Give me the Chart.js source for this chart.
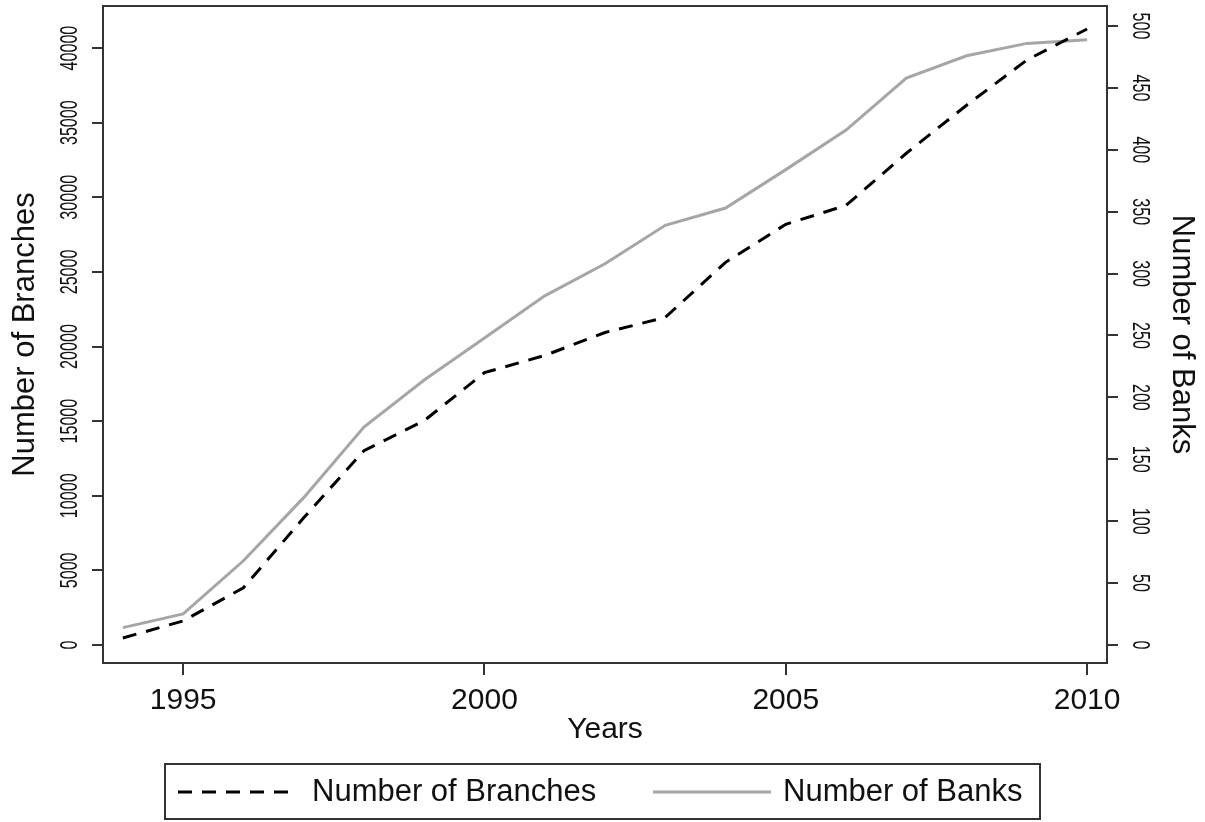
<!DOCTYPE html>
<html>
<head>
<meta charset="utf-8">
<script src="https://cdn.jsdelivr.net/npm/chart.js@4.4.1/dist/chart.umd.min.js"></script>
<style>
    html, body { margin: 0; padding: 0; background: #fff; }
    #wrap { width: 1205px; height: 822px; }
</style>
</head>
<body>
<div id="wrap"><canvas id="bankChart" width="1205" height="822"></canvas></div>
<script>
// Data
const years = [1994, 1995, 1996, 1997, 1998, 1999, 2000, 2001, 2002, 2003, 2004, 2005, 2006, 2007, 2008, 2009, 2010];
const branches = [470, 1610, 3830, 8520, 13020, 15030, 18250, 19400, 20940, 21950, 25640, 28190, 29460, 32950, 36170, 39200, 41280];
const banks = [14, 25, 68, 119, 176, 214, 248, 282, 308, 339, 353, 384, 416, 458, 476, 486, 489];

const yearTicks = [1995, 2000, 2005, 2010];
const branchTicks = [0, 5000, 10000, 15000, 20000, 25000, 30000, 35000, 40000];
const bankTicks = [0, 50, 100, 150, 200, 250, 300, 350, 400, 450, 500];

const FONT = "'Liberation Sans', Arial, sans-serif";
const AXIS = '#333333';

function toPoints(values) {
    return years.map((yr, i) => ({ x: yr, y: values[i] }));
}

// rotated, slightly condensed tick labels for the two vertical axes
const tickLabels = {
    id: 'tickLabels',
    afterDraw(chart) {
        const ctx = chart.ctx;
        ctx.save();
        ctx.fillStyle = '#111';
        ctx.font = '23px ' + FONT;
        ctx.textAlign = 'center';
        ctx.textBaseline = 'middle';

        branchTicks.forEach(v => {
            const y = chart.scales.y.getPixelForValue(v);
            ctx.save();
            ctx.translate(71, y);
            ctx.rotate(-Math.PI / 2);
            ctx.scale(0.7, 1);
            ctx.fillText(String(v), 0, 0);
            ctx.restore();
        });

        bankTicks.forEach(v => {
            const y = chart.scales.y2.getPixelForValue(v);
            ctx.save();
            ctx.translate(1139, y);
            ctx.rotate(Math.PI / 2);
            ctx.scale(0.7, 1);
            ctx.fillText(String(v), 0, 0);
            ctx.restore();
        });
        ctx.restore();
    }
};

// top border of the plot box plus the boxed legend below
const frameAndLegend = {
    id: 'frameAndLegend',
    afterDraw(chart) {
        const ctx = chart.ctx;
        const area = chart.chartArea;
        ctx.save();
        ctx.strokeStyle = AXIS;
        ctx.lineWidth = 2;
        ctx.beginPath();
        ctx.moveTo(area.left - 1, area.top);
        ctx.lineTo(area.right + 1, area.top);
        ctx.stroke();

        // legend box
        ctx.strokeRect(165, 764, 875, 55);

        const items = [
            { ds: chart.data.datasets[0], x0: 178, x1: 296, tx: 312 },
            { ds: chart.data.datasets[1], x0: 653, x1: 771, tx: 783 }
        ];
        items.forEach(it => {
            ctx.save();
            ctx.strokeStyle = it.ds.borderColor;
            ctx.lineWidth = it.ds.borderWidth;
            ctx.setLineDash(it.ds.borderDash || []);
            ctx.beginPath();
            ctx.moveTo(it.x0, 792);
            ctx.lineTo(it.x1, 792);
            ctx.stroke();
            ctx.restore();

            ctx.fillStyle = '#111';
            ctx.font = '31px ' + FONT;
            ctx.textAlign = 'left';
            ctx.textBaseline = 'middle';
            ctx.fillText(it.ds.label, it.tx, 792);
        });
        ctx.restore();
    }
};

const ctx = document.getElementById('bankChart');
const bankChart = new Chart(ctx, {
    type: 'line',
    data: {
        datasets: [
            {
                label: 'Number of Branches',
                data: toPoints(branches),
                yAxisID: 'y',
                borderColor: '#000000',
                borderWidth: 3,
                borderDash: [14, 10],
                pointRadius: 0,
                tension: 0,
                fill: false
            },
            {
                label: 'Number of Banks',
                data: toPoints(banks),
                yAxisID: 'y2',
                borderColor: '#a6a6a6',
                borderWidth: 3,
                pointRadius: 0,
                tension: 0,
                fill: false
            }
        ]
    },
    options: {
        responsive: false,
        animation: false,
        layout: { padding: { top: 6, left: 0, right: 0, bottom: 69 } },
        plugins: {
            legend: { display: false },
            tooltip: { enabled: false }
        },
        scales: {
            x: {
                type: 'linear',
                min: 1993.67,
                max: 2010.33,
                afterBuildTicks: scale => { scale.ticks = yearTicks.map(v => ({ value: v })); },
                afterFit: scale => { scale.height = 90; },
                grid: { display: true, drawOnChartArea: false, drawTicks: true, tickLength: 12, color: AXIS, lineWidth: 2 },
                border: { display: true, color: AXIS, width: 2 },
                ticks: { color: '#111', font: { family: FONT, size: 30 }, padding: 8, maxRotation: 0, callback: v => String(v) },
                title: { display: true, text: 'Years', color: '#111', font: { family: FONT, size: 30 }, padding: { top: 0, bottom: 5 } }
            },
            y: {
                position: 'left',
                min: -1208,
                max: 42819,
                afterBuildTicks: scale => { scale.ticks = branchTicks.map(v => ({ value: v })); },
                afterFit: scale => { scale.width = 103; },
                grid: { display: true, drawOnChartArea: false, drawTicks: true, tickLength: 11, color: AXIS, lineWidth: 2 },
                border: { display: true, color: AXIS, width: 2 },
                ticks: { display: false },
                title: { display: true, text: 'Number of Branches', color: '#111', font: { family: FONT, size: 31 }, padding: { top: 7, bottom: 0 } }
            },
            y2: {
                position: 'right',
                min: -14.6,
                max: 516.2,
                afterBuildTicks: scale => { scale.ticks = bankTicks.map(v => ({ value: v })); },
                afterFit: scale => { scale.width = 98; },
                grid: { display: true, drawOnChartArea: false, drawTicks: true, tickLength: 11, color: AXIS, lineWidth: 2 },
                border: { display: true, color: AXIS, width: 2 },
                ticks: { display: false },
                title: { display: true, text: 'Number of Banks', color: '#111', font: { family: FONT, size: 31 }, padding: { top: 5, bottom: 0 } }
            }
        }
    },
    plugins: [tickLabels, frameAndLegend]
});
</script>
</body>
</html>
